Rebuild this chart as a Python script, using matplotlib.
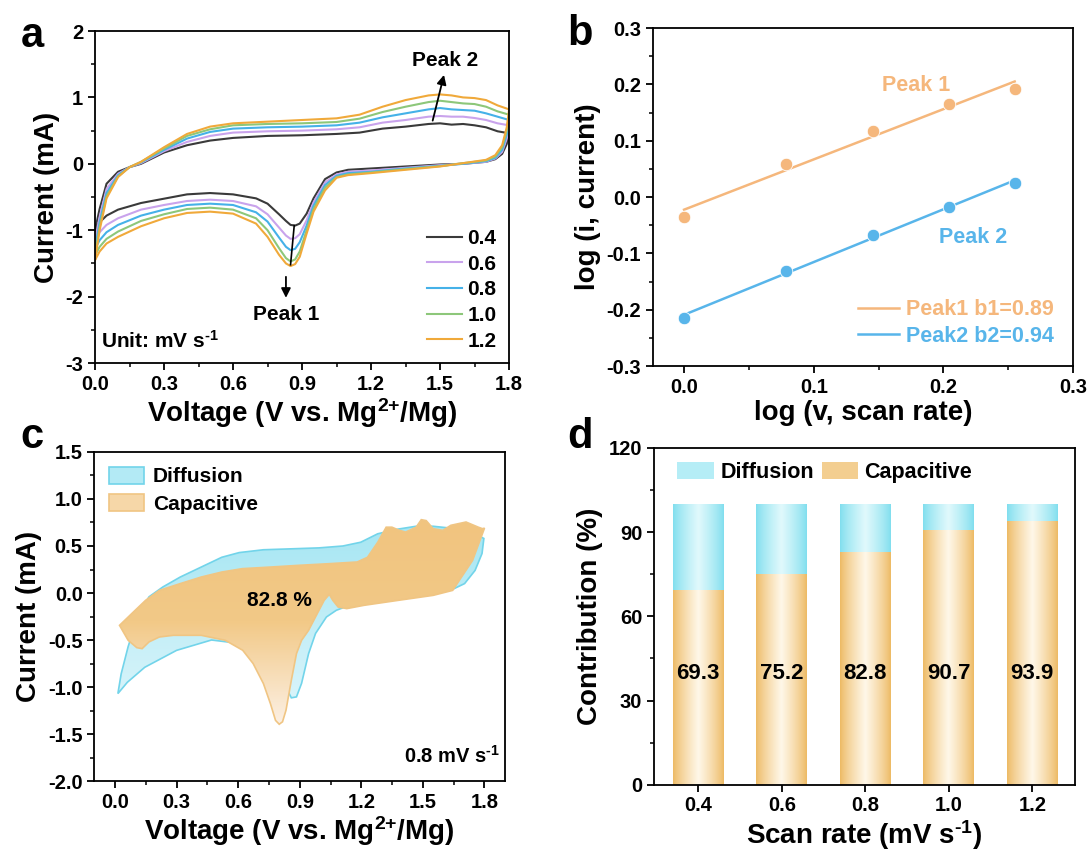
import numpy as np
import matplotlib
matplotlib.use("Agg")
import matplotlib.pyplot as plt
from matplotlib.patches import Patch
from matplotlib.colors import LinearSegmentedColormap
from matplotlib.ticker import MultipleLocator, FormatStrFormatter

plt.rcParams.update({
    "font.family": ["Liberation Sans", "DejaVu Sans"],
    "font.weight": "bold",
    "axes.labelweight": "bold",
    "axes.linewidth": 1.3,
    "axes.unicode_minus": False,
    "mathtext.fontset": "custom",
    "mathtext.rm": "Liberation Sans:bold",
    "mathtext.it": "Liberation Sans:bold",
    "mathtext.bf": "Liberation Sans:bold",
    "mathtext.default": "rm",
    "xtick.direction": "out",
    "ytick.direction": "out",
    "xtick.major.size": 5,
    "ytick.major.size": 5,
    "xtick.major.width": 1.3,
    "ytick.major.width": 1.3,
    "xtick.minor.size": 3,
    "ytick.minor.size": 3,
    "xtick.minor.width": 1.1,
    "ytick.minor.width": 1.1,
    "xtick.labelsize": 14.5,
    "ytick.labelsize": 14.5,
    "axes.labelsize": 20,
})

VOLT_LABEL = "Voltage (V vs. Mg$^{\\text{2+}}$/Mg)"
UNIT = "mV s$^{\\text{-1}}$"

# ---- (a) CV curves at different scan rates ----
scan_rates = ["0.4", "0.6", "0.8", "1.0", "1.2"]
cv_colors = ["#3a3a3a", "#c9a3ec", "#45b1e8", "#8dc77a", "#f0a93a"]
v_up = [0.00, 0.02, 0.05, 0.10, 0.15, 0.20, 0.30, 0.40, 0.50, 0.60, 0.75, 0.90,
        1.05, 1.15, 1.25, 1.35, 1.45, 1.50, 1.55, 1.60, 1.65, 1.70, 1.75, 1.80]
i_up = [
    [-1.00, -0.68, -0.30, -0.12, -0.05, 0.00, 0.17, 0.28, 0.35, 0.39, 0.42, 0.43,
     0.45, 0.47, 0.53, 0.56, 0.60, 0.61, 0.59, 0.60, 0.58, 0.55, 0.49, 0.46],
    [-1.15, -0.80, -0.38, -0.15, -0.05, 0.01, 0.19, 0.33, 0.42, 0.47, 0.49, 0.50,
     0.52, 0.55, 0.62, 0.66, 0.71, 0.72, 0.71, 0.71, 0.69, 0.66, 0.61, 0.58],
    [-1.28, -0.88, -0.44, -0.17, -0.05, 0.02, 0.21, 0.38, 0.48, 0.53, 0.55, 0.56,
     0.58, 0.62, 0.70, 0.76, 0.82, 0.84, 0.82, 0.81, 0.80, 0.76, 0.71, 0.66],
    [-1.38, -0.95, -0.49, -0.19, -0.05, 0.03, 0.23, 0.42, 0.52, 0.58, 0.60, 0.61,
     0.63, 0.68, 0.78, 0.86, 0.93, 0.95, 0.93, 0.91, 0.90, 0.86, 0.79, 0.74],
    [-1.45, -1.00, -0.52, -0.20, -0.05, 0.03, 0.25, 0.45, 0.56, 0.61, 0.635, 0.66,
     0.685, 0.74, 0.86, 0.96, 1.03, 1.045, 1.03, 1.00, 0.99, 0.96, 0.88, 0.82],
]
v_dn = [1.80, 1.79, 1.77, 1.74, 1.70, 1.60, 1.50, 1.35, 1.20, 1.10, 1.05, 1.00,
        0.95, 0.92, 0.89, 0.87, 0.85, 0.83, 0.80, 0.75, 0.70, 0.60, 0.50, 0.40,
        0.30, 0.20, 0.10, 0.05, 0.02, 0.00]
i_dn = [
    [0.46, 0.30, 0.15, 0.07, 0.03, 0.00, -0.01, -0.04, -0.07, -0.09, -0.13, -0.23,
     -0.52, -0.75, -0.90, -0.93, -0.92, -0.86, -0.76, -0.60, -0.52, -0.46, -0.44, -0.46,
     -0.525, -0.59, -0.69, -0.78, -0.88, -1.00],
    [0.58, 0.38, 0.18, 0.08, 0.03, 0.00, -0.02, -0.06, -0.10, -0.12, -0.16, -0.28,
     -0.58, -0.85, -1.06, -1.12, -1.13, -1.08, -0.96, -0.76, -0.64, -0.56, -0.54, -0.56,
     -0.62, -0.69, -0.82, -0.92, -1.03, -1.15],
    [0.66, 0.44, 0.21, 0.09, 0.04, 0.00, -0.03, -0.07, -0.12, -0.14, -0.18, -0.32,
     -0.63, -0.93, -1.18, -1.28, -1.30, -1.25, -1.11, -0.87, -0.73, -0.62, -0.60, -0.62,
     -0.69, -0.78, -0.92, -1.03, -1.15, -1.28],
    [0.74, 0.50, 0.25, 0.11, 0.05, 0.01, -0.035, -0.08, -0.13, -0.16, -0.20, -0.36,
     -0.68, -1.00, -1.32, -1.44, -1.47, -1.42, -1.27, -1.00, -0.82, -0.69, -0.66, -0.68,
     -0.76, -0.86, -1.02, -1.13, -1.25, -1.38],
    [0.82, 0.55, 0.28, 0.13, 0.06, 0.01, -0.04, -0.09, -0.14, -0.17, -0.21, -0.40,
     -0.72, -1.05, -1.40, -1.51, -1.54, -1.50, -1.37, -1.10, -0.90, -0.75, -0.72, -0.74,
     -0.82, -0.94, -1.10, -1.20, -1.32, -1.45],
]

# ---- (b) log(i) vs log(v) ----
log_v = [0.0, 0.079, 0.146, 0.204, 0.255]
log_i_peak1 = [-0.035, 0.058, 0.118, 0.166, 0.191]
log_i_peak2 = [-0.214, -0.131, -0.068, -0.017, 0.025]
peak1_color = "#f5b77c"
peak2_color = "#58b5ea"

# ---- (c) capacitive vs diffusion at 0.8 mV/s ----
total_v = [0.014, 0.03, 0.064, 0.115, 0.166, 0.233, 0.318, 0.42, 0.52, 0.605, 0.723,
           0.86, 0.994, 1.11, 1.197, 1.28, 1.38, 1.467, 1.55, 1.636, 1.72, 1.797,
           1.788, 1.754, 1.703, 1.636, 1.55, 1.467, 1.298, 1.129, 1.078, 1.03, 0.977,
           0.943, 0.909, 0.884, 0.859, 0.80, 0.72, 0.62, 0.47, 0.30, 0.145, 0.06]
total_i = [-1.07, -0.86, -0.57, -0.22, -0.04, 0.064, 0.17, 0.276, 0.38, 0.43, 0.46,
           0.47, 0.48, 0.50, 0.54, 0.63, 0.68, 0.71, 0.71, 0.69, 0.67, 0.58,
           0.42, 0.24, 0.10, 0.03, 0.0, -0.025, -0.078, -0.142, -0.184, -0.255, -0.43,
           -0.645, -0.96, -1.105, -1.115, -0.86, -0.63, -0.54, -0.50, -0.61, -0.79, -0.95]
cap_v = [0.022, 0.081, 0.149, 0.216, 0.318, 0.42, 0.52, 0.62, 0.757, 0.892, 1.044,
         1.18, 1.23, 1.28, 1.321, 1.349, 1.386, 1.416, 1.467, 1.492, 1.516, 1.55,
         1.597, 1.636, 1.71, 1.77, 1.79, 1.80, 1.742, 1.645, 1.55, 1.38, 1.213,
         1.129, 1.087, 1.061, 1.044, 1.019, 0.985, 0.943, 0.909, 0.884, 0.859,
         0.833, 0.816, 0.80, 0.782, 0.757, 0.723, 0.673, 0.622, 0.537, 0.42, 0.284,
         0.216, 0.166, 0.132, 0.106, 0.064]
cap_i = [-0.344, -0.22, -0.078, 0.028, 0.10, 0.17, 0.223, 0.259, 0.276, 0.294, 0.312,
         0.33, 0.38, 0.54, 0.70, 0.70, 0.666, 0.648, 0.70, 0.78, 0.77, 0.684,
         0.666, 0.72, 0.755, 0.70, 0.684, 0.69, 0.347, 0.028, -0.025, -0.078, -0.131,
         -0.166, -0.149, -0.078, -0.014, -0.078, -0.22, -0.397, -0.503, -0.645, -0.928,
         -1.247, -1.37, -1.396, -1.355, -1.176, -0.964, -0.751, -0.609, -0.503, -0.45,
         -0.45, -0.468, -0.52, -0.592, -0.581, -0.503]

# ---- (d) contribution ratios ----
rate_labels = ["0.4", "0.6", "0.8", "1.0", "1.2"]
capacitive = [69.3, 75.2, 82.8, 90.7, 93.9]
diffusion = [100 - c for c in capacitive]


def shade(ax, patch, colors, across, zorder):
    bb = patch.get_path().get_extents(patch.get_patch_transform())
    if across:
        g = 1 - np.abs(np.linspace(-1, 1, 200))
        img = (g ** 0.8)[np.newaxis, :]
    else:
        img = np.linspace(0, 1, 200)[:, np.newaxis]
    cmap = LinearSegmentedColormap.from_list("", colors)
    im = ax.imshow(img, extent=[bb.x0, bb.x1, bb.y0, bb.y1], origin="lower",
                   cmap=cmap, aspect="auto", zorder=zorder, interpolation="bilinear")
    im.set_clip_path(patch)


fig = plt.figure(figsize=(10.91, 8.52), dpi=100)
ax_a = fig.add_axes([0.0871, 0.5739, 0.3795, 0.3897])
ax_b = fig.add_axes([0.5985, 0.5704, 0.3850, 0.3967])
ax_c = fig.add_axes([0.0866, 0.0833, 0.3763, 0.3862])
ax_d = fig.add_axes([0.5994, 0.0790, 0.3859, 0.3952])

# (a)
for lab, col, iu, idn in zip(scan_rates, cv_colors, i_up, i_dn):
    ax_a.plot(v_up + v_dn, iu + idn, color=col, lw=1.5, label=lab)
ax_a.annotate("", xy=(1.52, 1.38), xytext=(1.465, 0.61),
              arrowprops=dict(arrowstyle="-|>", color="black", lw=1.3, mutation_scale=14))
ax_a.plot([0.866, 0.85], [-0.93, -1.52], color="black", lw=1.2)
ax_a.annotate("", xy=(0.83, -2.06), xytext=(0.83, -1.66),
              arrowprops=dict(arrowstyle="-|>", color="black", lw=1.3, mutation_scale=14))
ax_a.text(1.52, 1.56, "Peak 2", ha="center", va="center", fontsize=15)
ax_a.text(0.83, -2.27, "Peak 1", ha="center", va="center", fontsize=15)
ax_a.text(0.015, 0.045, "Unit: " + UNIT, transform=ax_a.transAxes, fontsize=15,
          ha="left", va="baseline")
ax_a.legend(loc="lower right", frameon=False, fontsize=15, handlelength=1.7,
            handletextpad=0.25, labelspacing=0.32, borderaxespad=0.2)
ax_a.set_xlim(0, 1.8)
ax_a.set_ylim(-3, 2)
ax_a.xaxis.set_major_locator(MultipleLocator(0.3))
ax_a.xaxis.set_minor_locator(MultipleLocator(0.15))
ax_a.xaxis.set_major_formatter(FormatStrFormatter("%.1f"))
ax_a.yaxis.set_major_locator(MultipleLocator(1))
ax_a.yaxis.set_minor_locator(MultipleLocator(0.5))
ax_a.set_xlabel(VOLT_LABEL, labelpad=2)
ax_a.set_ylabel("Current (mA)")

# (b)
lv = np.array(log_v)
for ys, col, lab, txt, tpos in [
    (log_i_peak1, peak1_color, "Peak1 b1=0.89", "Peak 1", (0.179, 0.198)),
    (log_i_peak2, peak2_color, "Peak2 b2=0.94", "Peak 2", (0.223, -0.071)),
]:
    k, b0 = np.polyfit(lv, ys, 1)
    ends = np.array([lv[0], lv[-1]])
    ax_b.plot(ends, k * ends + b0, color=col, lw=1.8, label=lab)
    ax_b.plot(lv, ys, "o", ms=9, mfc=col, mec="white", mew=0.6, zorder=3)
    ax_b.text(tpos[0], tpos[1], txt, color=col, fontsize=15.5, ha="center", va="center")
ax_b.legend(loc="lower right", frameon=False, fontsize=15.5, handlelength=1.9,
            handletextpad=0.3, labelspacing=0.25, borderaxespad=0.5, labelcolor="linecolor")
ax_b.set_xlim(-0.024, 0.3)
ax_b.set_ylim(-0.3, 0.3)
ax_b.xaxis.set_major_locator(MultipleLocator(0.1))
ax_b.xaxis.set_minor_locator(MultipleLocator(0.05))
ax_b.xaxis.set_major_formatter(FormatStrFormatter("%.1f"))
ax_b.yaxis.set_major_locator(MultipleLocator(0.1))
ax_b.yaxis.set_minor_locator(MultipleLocator(0.05))
ax_b.yaxis.set_major_formatter(FormatStrFormatter("%.1f"))
ax_b.set_xlabel("log (v, scan rate)", labelpad=2)
ax_b.set_ylabel("log (i, current)")

# (c)
tot = ax_c.fill(total_v, total_i, facecolor="none", edgecolor="#72d4ea", lw=1.2, zorder=2)[0]
shade(ax_c, tot, ["#d8f4fa", "#a6e6f3"], False, 1)
cap = ax_c.fill(cap_v, cap_i, facecolor="none", edgecolor="#f0c583", lw=1.2, zorder=4)[0]
shade(ax_c, cap, ["#fcf0e4", "#f2c987", "#f1c47f"], False, 3)
ax_c.text(0.80, -0.08, "82.8 %", fontsize=15, ha="center", va="center", zorder=5)
ax_c.text(0.987, 0.055, "0.8 " + UNIT, transform=ax_c.transAxes, fontsize=14.5,
          ha="right", va="baseline")
ax_c.legend(handles=[Patch(facecolor="#b3eaf5", edgecolor="#72d4ea", lw=1.2, label="Diffusion"),
                     Patch(facecolor="#f6d7a8", edgecolor="#f0c583", lw=1.2, label="Capacitive")],
            loc="upper left", frameon=False, fontsize=15, handlelength=1.7, handleheight=0.9,
            handletextpad=0.4, labelspacing=0.35, borderaxespad=0.3)
ax_c.set_xlim(-0.1, 1.9)
ax_c.set_ylim(-2.0, 1.5)
ax_c.xaxis.set_major_locator(MultipleLocator(0.3))
ax_c.xaxis.set_minor_locator(MultipleLocator(0.15))
ax_c.xaxis.set_major_formatter(FormatStrFormatter("%.1f"))
ax_c.yaxis.set_major_locator(MultipleLocator(0.5))
ax_c.yaxis.set_minor_locator(MultipleLocator(0.25))
ax_c.yaxis.set_major_formatter(FormatStrFormatter("%.1f"))
ax_c.set_xlabel(VOLT_LABEL, labelpad=2)
ax_c.set_ylabel("Current (mA)")

# (d)
xs = np.arange(len(rate_labels))
cap_bars = ax_d.bar(xs, capacitive, width=0.61, color="none")
dif_bars = ax_d.bar(xs, diffusion, bottom=capacitive, width=0.61, color="none")
for bar in cap_bars:
    shade(ax_d, bar, ["#edb962", "#fff7e8"], True, 2)
for bar in dif_bars:
    shade(ax_d, bar, ["#7fdeee", "#e0f9fc"], True, 2)
for x, c in zip(xs, capacitive):
    ax_d.text(x, 39.5, f"{c:.1f}", ha="center", va="center", fontsize=16, zorder=4)
ax_d.legend(handles=[Patch(facecolor="#b5edf6", edgecolor="none", label="Diffusion"),
                     Patch(facecolor="#f3ce90", edgecolor="none", label="Capacitive")],
            loc="upper left", bbox_to_anchor=(0.035, 0.985), ncol=2, frameon=False,
            fontsize=15.5, handlelength=1.7, handleheight=0.85, handletextpad=0.3,
            columnspacing=0.35, borderaxespad=0)
ax_d.set_xlim(-0.53, 4.51)
ax_d.set_ylim(0, 120)
ax_d.set_xticks(xs, rate_labels)
ax_d.yaxis.set_major_locator(MultipleLocator(30))
ax_d.yaxis.set_minor_locator(MultipleLocator(15))
ax_d.set_xlabel("Scan rate (" + UNIT + ")", labelpad=2)
ax_d.set_ylabel("Contribution (%)")

for letter, x, y in [("a", 0.019, 0.945), ("b", 0.52, 0.947), ("c", 0.019, 0.474), ("d", 0.52, 0.474)]:
    fig.text(x, y, letter, fontsize=30, fontweight="bold", ha="left", va="baseline")

fig.savefig("out.png", dpi=100)
